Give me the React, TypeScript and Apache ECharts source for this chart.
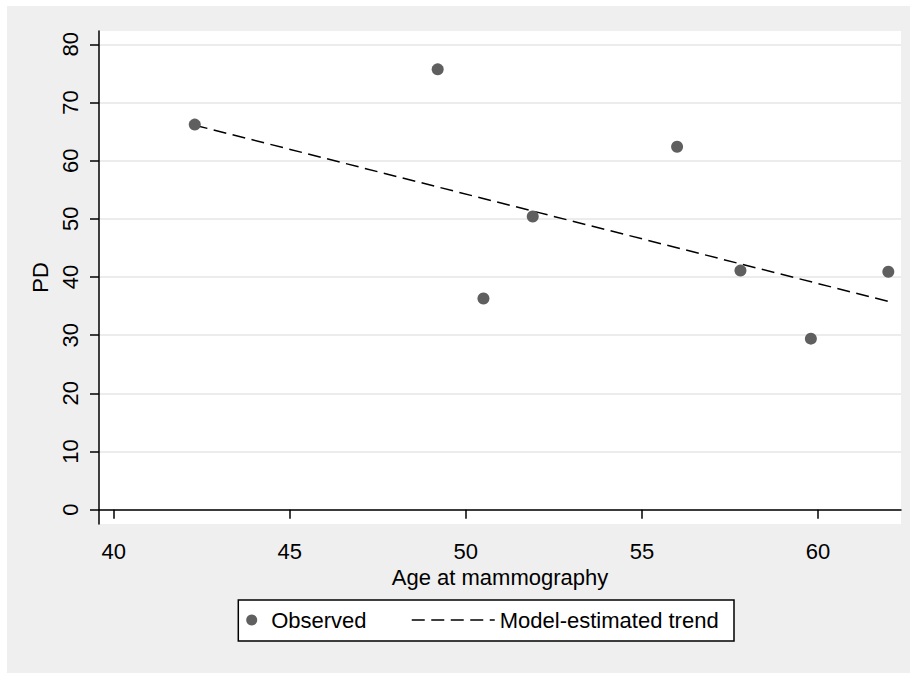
import React, { useEffect, useRef } from "react";
import * as echarts from "echarts";

// Observed data
const ageObserved = [42.3, 49.2, 50.5, 51.9, 56.0, 57.8, 59.8, 62.0];
const pdObserved = [66.2, 75.7, 36.3, 50.4, 62.4, 41.1, 29.4, 40.9];

// Model-estimated trend (endpoints of linear fit)
const trendAge = [42.3, 62.0];
const trendPD = [66.1, 35.8];

// Tick labels
const xTicks = [40, 45, 50, 55, 60];
const yTicks = [0, 10, 20, 30, 40, 50, 60, 70, 80];

const FONT = "'Liberation Sans', Arial, Helvetica, sans-serif";

export default function App() {
  const ref = useRef<HTMLDivElement>(null);

  useEffect(() => {
    if (!ref.current) return;
    const chart = echarts.init(ref.current, undefined, { renderer: "svg" });
    const obs = ageObserved.map((a, i) => [a, pdObserved[i]]);
    const trend = trendAge.map((a, i) => [a, trendPD[i]]);

    chart.setOption({
      animation: false,
      backgroundColor: "#efefef",
      textStyle: { fontFamily: FONT },
      grid: {
        left: 92,
        top: 25,
        width: 802,
        height: 493,
        show: true,
        backgroundColor: "#ffffff",
        borderWidth: 0,
      },
      xAxis: {
        type: "value",
        min: 39.58,
        max: 62.36,
        name: "Age at mammography",
        nameLocation: "middle",
        nameGap: 42,
        nameTextStyle: { fontSize: 22, color: "#000", fontFamily: FONT },
        axisLine: { show: true, lineStyle: { color: "#000", width: 1.5 } },
        axisTick: {
          show: true,
          length: 9,
          inside: false,
          customValues: xTicks,
          lineStyle: { color: "#000", width: 1.5 },
        },
        axisLabel: {
          customValues: xTicks,
          fontSize: 22,
          color: "#000",
          margin: 16,
          fontFamily: FONT,
        },
        splitLine: { show: false },
      },
      yAxis: {
        type: "value",
        min: -2.46,
        max: 82.29,
        name: "PD",
        nameLocation: "middle",
        nameGap: 42,
        nameTextStyle: { fontSize: 22, color: "#000", fontFamily: FONT },
        axisLine: { show: true, lineStyle: { color: "#000", width: 1.5 } },
        axisTick: {
          show: true,
          length: 9,
          inside: false,
          customValues: yTicks,
          lineStyle: { color: "#000", width: 1.5 },
        },
        axisLabel: {
          customValues: yTicks,
          fontSize: 22,
          color: "#000",
          rotate: 90,
          margin: 18,
          fontFamily: FONT,
        },
        splitLine: {
          show: true,
          customValues: yTicks,
          lineStyle: { color: "#e6e6e6", width: 1.5 },
        },
      },
      legend: [
        {
          data: [{ name: "Observed", icon: "circle" }],
          left: 239.2,
          top: 603,
          itemWidth: 11,
          itemHeight: 11,
          padding: 0,
          itemStyle: { opacity: 1, color: "#606060" },
          textStyle: {
            fontSize: 22,
            color: "#000",
            fontFamily: FONT,
            padding: [0, 0, 0, 9],
          },
        },
        {
          data: ["Model-estimated trend"],
          left: 404,
          top: 603,
          itemWidth: 83,
          itemHeight: 11,
          padding: 0,
          itemStyle: { opacity: 0 },
          lineStyle: { color: "#000", width: 1.5, type: [13, 6.5] },
          textStyle: { fontSize: 22, color: "#000", fontFamily: FONT },
        },
      ],
      graphic: [
        {
          type: "rect",
          z: -1,
          shape: { x: 231.3, y: 594, width: 495.7, height: 41 },
          style: { fill: "#ffffff", stroke: "#000", lineWidth: 1.5 },
        },
      ],
      series: [
        {
          name: "Observed",
          type: "scatter",
          data: obs,
          symbol: "circle",
          symbolSize: 12,
          itemStyle: { color: "#5f5f5f", opacity: 1 },
          z: 3,
        },
        {
          name: "Model-estimated trend",
          type: "line",
          data: trend,
          symbol: "none",
          showSymbol: false,
          lineStyle: { color: "#000", width: 1.5, type: [13, 6.5] },
          itemStyle: { color: "#000" },
          z: 2,
        },
      ],
    });

    return () => chart.dispose();
  }, []);

  return (
    <div
      style={{
        position: "absolute",
        left: 0,
        top: 0,
        width: 913,
        height: 673,
        background: "#ffffff",
      }}
    >
      <div
        ref={ref}
        style={{ position: "absolute", left: 7, top: 6, width: 903, height: 667 }}
      />
    </div>
  );
}
